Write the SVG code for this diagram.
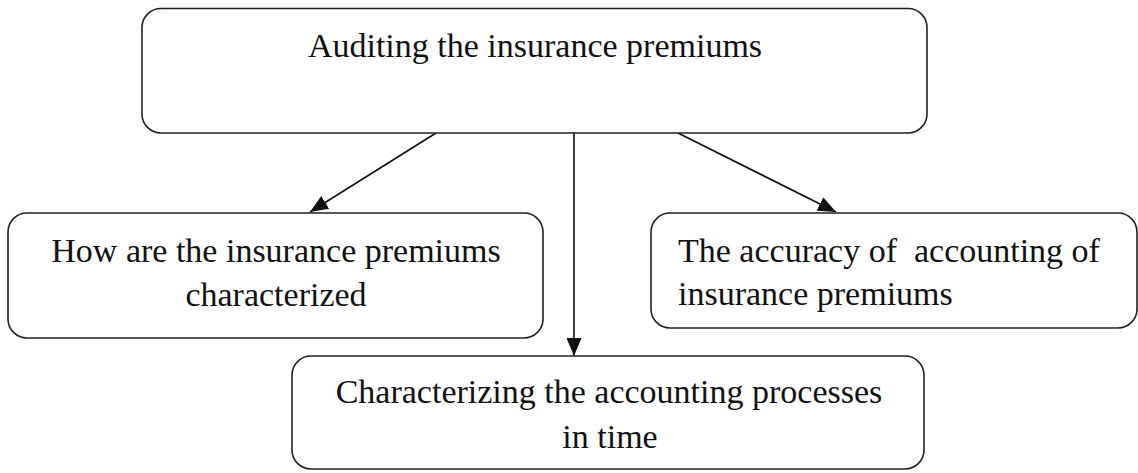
<svg xmlns="http://www.w3.org/2000/svg" width="1138" height="473" viewBox="0 0 1138 473">
<style>
.box{fill:#fff;stroke:#222;stroke-width:1.6}
.lbl{font-family:"Liberation Serif","Times New Roman",serif;font-size:34px;fill:#111}
.c{text-anchor:middle}
.edge{stroke:#111;stroke-width:1.6;fill:none}
</style>
<defs>
<marker id="ah" markerUnits="userSpaceOnUse" markerWidth="18" markerHeight="15" refX="18" refY="7.5" orient="auto">
<path d="M0,0 L18,7.5 L0,15 Z" fill="#111"/>
</marker>
</defs>
<rect width="1138" height="473" fill="#fff"/>
<g id="connectors">
<line class="edge" x1="436" y1="133" x2="310" y2="212" marker-end="url(#ah)"/>
<line class="edge" x1="574" y1="133" x2="574" y2="356" marker-end="url(#ah)"/>
<line class="edge" x1="678" y1="133" x2="836" y2="212" marker-end="url(#ah)"/>
</g>
<g id="n-audit">
<rect class="box" x="142" y="8.5" width="785" height="124.5" rx="19"/>
<text class="lbl c" x="535" y="57">Auditing the insurance premiums</text>
</g>
<g id="n-how">
<rect class="box" x="8" y="213" width="535" height="125" rx="19"/>
<text class="lbl c" x="276" y="262">How are the insurance premiums</text>
<text class="lbl c" x="276" y="306">characterized</text>
</g>
<g id="n-accuracy">
<rect class="box" x="651" y="213" width="486" height="115" rx="19"/>
<text class="lbl" x="678" y="262" xml:space="preserve" style="white-space:pre">The accuracy of  accounting of</text>
<text class="lbl" x="678" y="305">insurance premiums</text>
</g>
<g id="n-time">
<rect class="box" x="292" y="356" width="632" height="113" rx="19"/>
<text class="lbl c" x="609" y="403">Characterizing the accounting processes</text>
<text class="lbl c" x="610" y="448">in time</text>
</g>
</svg>
